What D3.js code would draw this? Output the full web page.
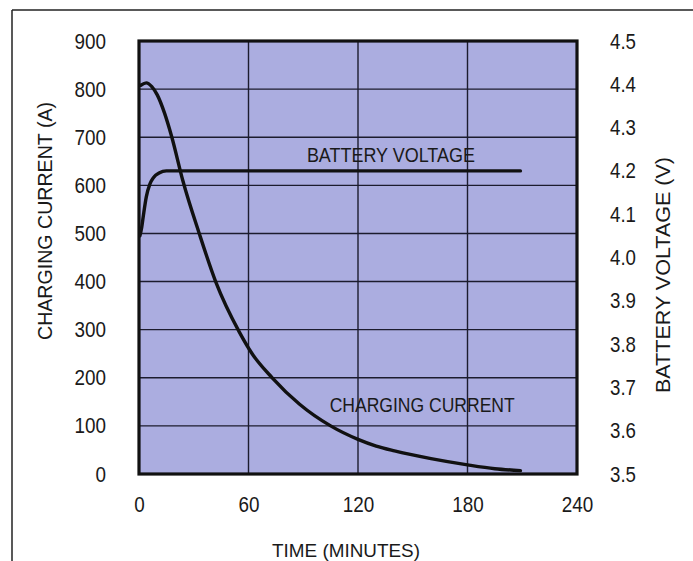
<!DOCTYPE html>
<html>
<head>
<meta charset="utf-8">
<script src="https://cdn.jsdelivr.net/npm/d3@7"></script>
<style>
  html, body { margin: 0; padding: 0; background: #fff; }
  svg { display: block; }
  text { font-family: "Liberation Sans", Arial, sans-serif; fill: #1a1a1a; }
</style>
</head>
<body>
<svg id="chart" width="693" height="561"></svg>
<script>
// Charging profile of a Li-ion cell: current (left axis) and voltage (right axis) vs time
const timeTicks = [0, 60, 120, 180, 240];
const currentTicks = [0, 100, 200, 300, 400, 500, 600, 700, 800, 900];
const voltageTicks = [3.5, 3.6, 3.7, 3.8, 3.9, 4.0, 4.1, 4.2, 4.3, 4.4, 4.5];

const currentTime = [1, 4, 7, 10, 14, 18, 24, 33, 42, 55, 62, 73, 88, 105, 120, 130, 140, 160, 180, 195, 209];
const currentValue = [808, 813, 805, 788, 750, 700, 610, 500, 400, 295, 250, 200, 145, 100, 72, 58, 48, 32, 19, 11, 7];

const voltageTime = [0.5, 1.5, 2.5, 4, 6, 8, 11, 15, 20, 60, 120, 180, 209];
const voltageValue = [4.05, 4.07, 4.10, 4.14, 4.17, 4.185, 4.195, 4.2, 4.2, 4.2, 4.2, 4.2, 4.2];

const svg = d3.select("#chart");

const plot = { left: 139, right: 577, top: 41, bottom: 474 };
const x = d3.scaleLinear().domain([0, 240]).range([plot.left, plot.right]);
const yI = d3.scaleLinear().domain([0, 900]).range([plot.bottom, plot.top]);
const yV = d3.scaleLinear().domain([3.5, 4.5]).range([plot.bottom, plot.top]);

// outer frame (top and left edges)
svg.append("line").attr("x1", 12).attr("x2", 693).attr("y1", 10).attr("y2", 10)
  .attr("stroke", "#222").attr("stroke-width", 1.5);
svg.append("line").attr("x1", 12).attr("x2", 12).attr("y1", 10).attr("y2", 561)
  .attr("stroke", "#222").attr("stroke-width", 1.5);

// plot background
svg.append("rect")
  .attr("x", plot.left).attr("y", plot.top)
  .attr("width", plot.right - plot.left).attr("height", plot.bottom - plot.top)
  .attr("fill", "#abade0");

// grid
const grid = svg.append("g").attr("stroke", "#1c1c2e").attr("stroke-width", 1.4);
grid.selectAll(".h").data(currentTicks.slice(1, -1)).join("line")
  .attr("x1", plot.left).attr("x2", plot.right)
  .attr("y1", d => yI(d)).attr("y2", d => yI(d));
grid.selectAll(".v").data(timeTicks.slice(1, -1)).join("line")
  .attr("y1", plot.top).attr("y2", plot.bottom)
  .attr("x1", d => x(d)).attr("x2", d => x(d));

// border
svg.append("rect")
  .attr("x", plot.left).attr("y", plot.top)
  .attr("width", plot.right - plot.left).attr("height", plot.bottom - plot.top)
  .attr("fill", "none").attr("stroke", "#111").attr("stroke-width", 3.2);

// curves
const curLine = d3.line()
  .x((d, i) => x(currentTime[i]))
  .y(d => yI(d))
  .curve(d3.curveMonotoneX);
const voltLine = d3.line()
  .x((d, i) => x(voltageTime[i]))
  .y(d => yV(d))
  .curve(d3.curveMonotoneX);

svg.append("path").attr("d", voltLine(voltageValue))
  .attr("fill", "none").attr("stroke", "#111").attr("stroke-width", 3.4)
  .attr("stroke-linecap", "round");
svg.append("path").attr("d", curLine(currentValue))
  .attr("fill", "none").attr("stroke", "#111").attr("stroke-width", 3.4)
  .attr("stroke-linecap", "round");

// axes: tall, narrow numerals
function styleAxis(g) {
  g.select(".domain").remove();
  g.selectAll(".tick line").remove();
  g.selectAll("text").attr("font-size", 22)
    .attr("font-family", "'Liberation Sans', Arial, sans-serif").attr("fill", "#1a1a1a")
    .attr("lengthAdjust", "spacingAndGlyphs")
    .attr("textLength", function () {
      const s = this.textContent;
      const dots = (s.match(/\./g) || []).length;
      return (s.length - dots) * 10.5 + dots * 5;
    });
}

svg.append("g").attr("transform", "translate(106,0)")
  .call(d3.axisLeft(yI).tickValues(currentTicks).tickSize(0).tickPadding(0).tickFormat(d3.format("d")))
  .call(styleAxis);

svg.append("g").attr("transform", "translate(610,0)")
  .call(d3.axisRight(yV).tickValues(voltageTicks).tickSize(0).tickPadding(0).tickFormat(d3.format(".1f")))
  .call(styleAxis);

svg.append("g").attr("transform", "translate(0,496)")
  .call(d3.axisBottom(x).tickValues(timeTicks).tickSize(0).tickPadding(0).tickFormat(d3.format("d")))
  .call(styleAxis);

// axis titles
svg.append("text")
  .attr("transform", "translate(52,221) rotate(-90)")
  .attr("text-anchor", "middle").attr("font-size", 20)
  .attr("textLength", 238).attr("lengthAdjust", "spacingAndGlyphs")
  .text("CHARGING CURRENT (A)");

svg.append("text")
  .attr("transform", "translate(670,275) rotate(-90)")
  .attr("text-anchor", "middle").attr("font-size", 20)
  .attr("textLength", 236).attr("lengthAdjust", "spacingAndGlyphs")
  .text("BATTERY VOLTAGE (V)");

svg.append("text")
  .attr("x", 346).attr("y", 557)
  .attr("text-anchor", "middle").attr("font-size", 19)
  .attr("textLength", 148).attr("lengthAdjust", "spacingAndGlyphs")
  .text("TIME (MINUTES)");

// series labels
svg.append("text")
  .attr("x", x(92)).attr("y", yV(4.22))
  .attr("font-size", 21)
  .attr("textLength", 168).attr("lengthAdjust", "spacingAndGlyphs")
  .text("BATTERY VOLTAGE");

svg.append("text")
  .attr("x", x(104.5)).attr("y", yI(129))
  .attr("font-size", 21)
  .attr("textLength", 185).attr("lengthAdjust", "spacingAndGlyphs")
  .text("CHARGING CURRENT");
</script>
</body>
</html>
